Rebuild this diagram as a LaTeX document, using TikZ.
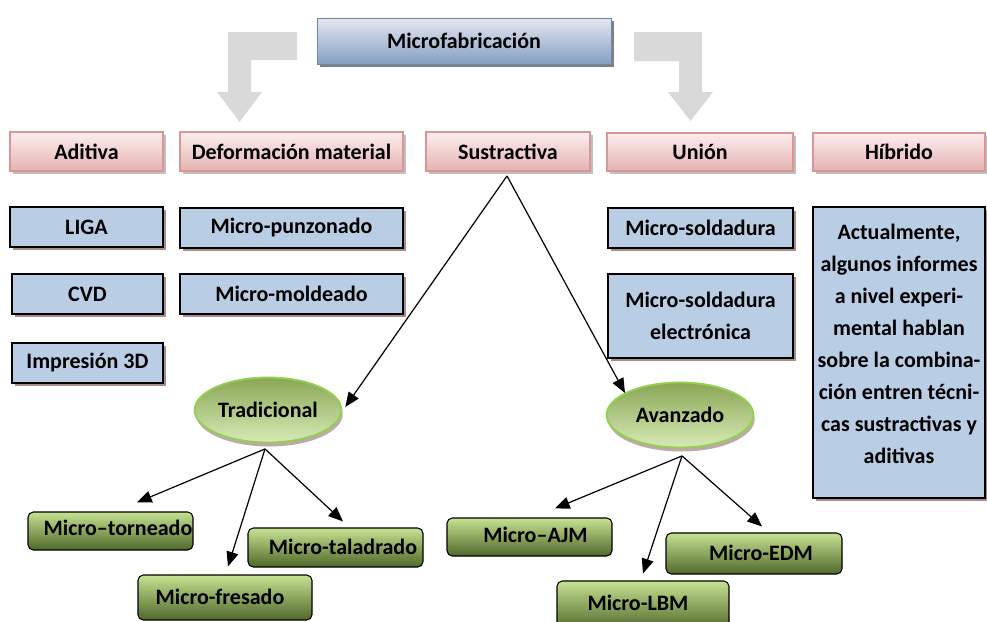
\documentclass[tikz,border=0pt]{standalone}
\usepackage{fontspec}
\setmainfont{Carlito}
\usetikzlibrary{arrows.meta,shadows,fit,calc,shapes.geometric}

\definecolor{pinkTop}{RGB}{252,238,238}
\definecolor{pinkBot}{RGB}{229,178,178}
\definecolor{pinkEdge}{RGB}{217,150,148}
\definecolor{titleTop}{RGB}{228,233,240}
\definecolor{titleBot}{RGB}{132,158,196}
\definecolor{titleEdge}{RGB}{105,135,178}
\definecolor{blueFill}{RGB}{185,205,229}
\definecolor{boxShadow}{RGB}{168,140,140}
\definecolor{ovalTop}{RGB}{138,166,86}
\definecolor{ovalBot}{RGB}{216,234,182}
\definecolor{ovalEdge}{RGB}{146,208,80}
\definecolor{leafTop}{RGB}{198,226,146}
\definecolor{leafBot}{RGB}{80,104,42}
\definecolor{bendGrey}{RGB}{217,217,217}

\tikzset{
  base/.style={inner sep=0pt, text=black, font=\bfseries\fontsize{16.5}{24}\selectfont, align=center},
  txt/.style={label={[base]center:#1}},
  titlebox/.style={inner sep=0pt, draw=titleEdge, line width=0.6pt, top color=titleTop, bottom color=titleBot,
    drop shadow={shadow xshift=2.6pt, shadow yshift=-2.6pt, fill=black!50, opacity=1}},
  catbox/.style={inner sep=0pt, draw=pinkEdge, line width=1.4pt, top color=pinkTop, bottom color=pinkBot,
    drop shadow={shadow xshift=2.2pt, shadow yshift=-2.2pt, fill=black!25, opacity=1}},
  itembox/.style={inner sep=0pt, draw=black, line width=1.3pt, fill=blueFill,
    drop shadow={shadow xshift=2.4pt, shadow yshift=-2.4pt, fill=boxShadow, opacity=1}},
  oval/.style={base, ellipse, draw=ovalEdge, line width=1.4pt, top color=ovalTop, bottom color=ovalBot,
    minimum width=110pt, minimum height=48.75pt,
    drop shadow={shadow xshift=1pt, shadow yshift=-3pt, fill=boxShadow!75, opacity=1}},
  leafbox/.style={inner sep=0pt, draw=black, line width=0.8pt, rounded corners=4pt,
    top color=leafTop, bottom color=leafBot},
  link/.style={draw=black, line width=0.9pt, -{Triangle[length=11pt,width=9pt]}},
}

\begin{document}
\begin{tikzpicture}[x=0.75pt, y=-0.75pt]
\clip (0,0) rectangle (987,621);
\fill[white] (0,0) rectangle (987,621);

% bent grey arrows beside the title
\fill[bendGrey] (297,32) -- (228,32) -- (228,92) -- (217,92) -- (239.5,122) -- (262,92)
  -- (251,92) -- (251,60) -- (297,60) -- cycle;
\fill[bendGrey] (634,32) -- (702,32) -- (702,92) -- (713,92) -- (690.5,121) -- (668,92)
  -- (679,92) -- (679,61) -- (634,61) -- cycle;

% title
\node[titlebox, fit={(317,18) (611,64)}, txt={Microfabricación}] (title) {};

% category row
\node[catbox, fit={(10,132) (163,171)}, txt={Aditiva}] (adit) {};
\node[catbox, fit={(180,132) (403,171)}, txt={Deformación material}] (defo) {};
\node[catbox, fit={(426,132) (590,171)}, txt={Sustractiva}] (sust) {};
\node[catbox, fit={(607,133) (793,171)}, txt={Unión}] (union) {};
\node[catbox, fit={(813,133) (985,171)}, txt={Híbrido}] (hibr) {};

% technique boxes
\node[itembox, fit={(10,207) (163,247)}, txt={LIGA}] (liga) {};
\node[itembox, fit={(12,274) (163,314)}, txt={CVD}] (cvd) {};
\node[itembox, fit={(12,343) (163,383)}, txt={Impresión 3D}] (imp) {};
\node[itembox, fit={(180,208) (403,248)}, txt={Micro-punzonado}] (punz) {};
\node[itembox, fit={(180,274) (403,314)}, txt={Micro-moldeado}] (mold) {};
\node[itembox, fit={(608,208) (793,248)}, txt={Micro-soldadura}] (sold) {};
\node[itembox, fit={(608,274) (793,358)}, txt={Micro-soldadura\\electrónica}] (solde) {};
\node[itembox, fit={(813,207) (985,498)}] (hibtxt) {};
\node[base] (hibnote) at ($(hibtxt.center)+(0,-9)$)
  {Actualmente,\\algunos informes\\a nivel experi-\\mental hablan\\sobre la combina-\\ción entren técni-\\cas sustractivas y\\aditivas};

% subtractive branches
\node[oval] (trad) at (268,410) {Tradicional};
\node[oval] (avan) at (680,415) {Avanzado};

% leaf boxes
\node[leafbox, fit={(28,512) (193,550)}] (tor) {};
\node[leafbox, fit={(248,528) (423,567)}] (tal) {};
\node[leafbox, fit={(138,575) (312,620)}] (fre) {};
\node[leafbox, fit={(447,518) (612,556)}] (ajm) {};
\node[leafbox, fit={(666,533) (842,574)}] (edm) {};
\node[leafbox, fit={(557,581) (729,630)}] (lbm) {};
\node[base] (torT) at ($(tor.center)+(7.5,-2.7)$) {Micro–torneado};
\node[base] (talT) at ($(tal.center)+(7.5,-0.8)$) {Micro-taladrado};
\node[base] (freT) at ($(fre.center)+(-5,-1)$) {Micro-fresado};
\node[base] (ajmT) at ($(ajm.center)+(6,-2)$) {Micro–AJM};
\node[base] (edmT) at ($(edm.center)+(7,-0.5)$) {Micro-EDM};
\node[base] (lbmT) at ($(lbm.north)+(-5,22)$) {Micro-LBM};

% connector hubs and arrow tips
\coordinate (sHub) at ($(sust.south)+(-1,4)$);
\coordinate (tHub) at ($(trad.south)+(-3,5.5)$);
\coordinate (aHub) at ($(avan.south)+(2,7.5)$);
\coordinate (tradTip) at ($(trad.east)+(3,-3)$);
\coordinate (avanTip) at (625,393);
\coordinate (torTip) at ($(tor.north)+(26.5,-9)$);
\coordinate (freTip) at ($(fre.north)+(3,-8)$);
\coordinate (talTip) at ($(tal.north)+(7.5,-6)$);
\coordinate (ajmTip) at ($(ajm.north)+(25.5,-9)$);
\coordinate (lbmTip) at ($(lbm.north)+(0,-7)$);
\coordinate (edmTip) at ($(edm.north)+(8,-6)$);

\draw[link] (sHub) -- (tradTip);
\draw[link] (sHub) -- (avanTip);
\draw[link] (tHub) -- (torTip);
\draw[link] (tHub) -- (freTip);
\draw[link] (tHub) -- (talTip);
\draw[link] (aHub) -- (ajmTip);
\draw[link] (aHub) -- (lbmTip);
\draw[link] (aHub) -- (edmTip);
\end{tikzpicture}
\end{document}
